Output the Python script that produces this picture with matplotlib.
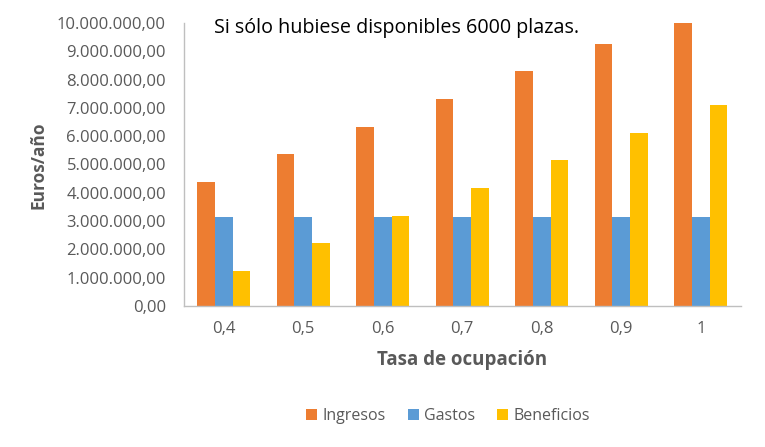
import numpy as np
import matplotlib
matplotlib.use("Agg")
import matplotlib.pyplot as plt
from matplotlib.ticker import FuncFormatter

plt.rcParams['font.family'] = ['Open Sans', 'DejaVu Sans']

tasas = ['0,4', '0,5', '0,6', '0,7', '0,8', '0,9', '1']
ingresos = [4.38e6, 5.36e6, 6.33e6, 7.31e6, 8.29e6, 9.27e6, 10.24e6]
gastos = [3.14e6, 3.14e6, 3.14e6, 3.14e6, 3.14e6, 3.14e6, 3.14e6]
beneficios = [1.24e6, 2.22e6, 3.19e6, 4.17e6, 5.15e6, 6.13e6, 7.10e6]

GRAY = '#595959'

def euros(v, pos):
    s = '{:,.2f}'.format(v)
    return s.replace(',', 'X').replace('.', ',').replace('X', '.')

fig = plt.figure(figsize=(7.65, 4.47), dpi=100)
ax = fig.add_axes([184 / 765, 1 - 306 / 447, (740.5 - 184) / 765, (306 - 23) / 447])

x = np.arange(len(tasas))
w = 0.224
ax.bar(x - w, ingresos, w, color='#ED7D31', label='Ingresos')
ax.bar(x, gastos, w, color='#5B9BD5', label='Gastos')
ax.bar(x + w, beneficios, w, color='#FFC000', label='Beneficios')

ax.set_xlim(-0.5, len(tasas) - 0.5)
ax.set_ylim(0, 1e7)
ax.set_yticks(np.arange(0, 1e7 + 1, 1e6))
ax.yaxis.set_major_formatter(FuncFormatter(euros))
ax.set_xticks(x)
ax.set_xticklabels(tasas)

for s in ['top', 'right']:
    ax.spines[s].set_visible(False)
for s in ['left', 'bottom']:
    ax.spines[s].set_color('#BFBFBF')
    ax.spines[s].set_linewidth(1)
ax.tick_params(axis='both', length=0, labelsize=12, colors=GRAY)
ax.tick_params(axis='y', pad=13)
ax.tick_params(axis='x', pad=11)

ax.set_xlabel('Tasa de ocupación', fontsize=13.5, fontweight='bold', color=GRAY, labelpad=9.5)
ax.set_ylabel('Euros/año', fontsize=12.5, fontweight='bold', color=GRAY, labelpad=6.5)
ax.yaxis.label.set_position((0, (306 - 165) / 283))

fig.text(214 / 765, 1 - 28 / 447, 'Si sólo hubiese disponibles 6000 plazas.',
         fontsize=14.2, color='black', va='center', ha='left')

fig.legend(loc='center', bbox_to_anchor=(448 / 765, 1 - 416 / 447), ncol=3,
           frameon=False, fontsize=11.5, labelcolor=GRAY, handlelength=0.7,
           handleheight=0.7, handletextpad=0.3, columnspacing=1.4)

fig.savefig('out.png', dpi=100)
